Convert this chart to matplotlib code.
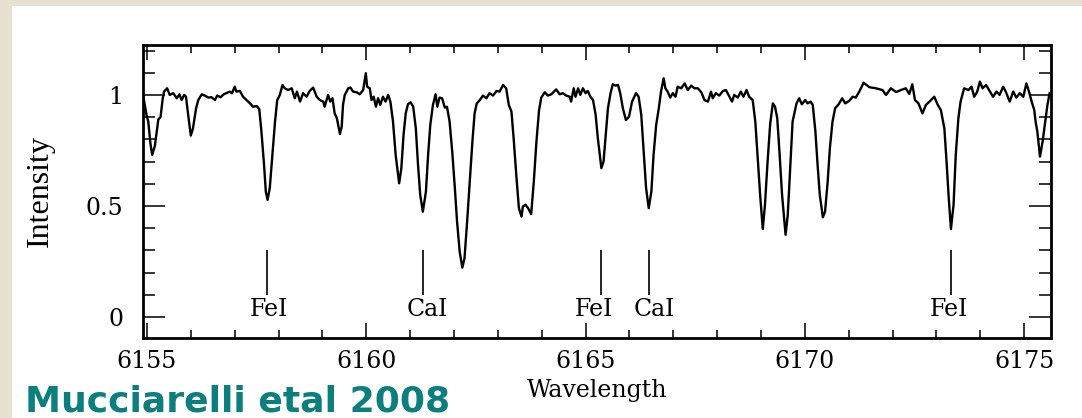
import matplotlib
matplotlib.use("Agg")
import matplotlib.pyplot as plt
from matplotlib.patches import Rectangle
from matplotlib.ticker import FixedLocator, MultipleLocator

# spectrum (wavelength in A, normalised intensity)
wl = [6154.92, 6154.99, 6155.03, 6155.08, 6155.12, 6155.18, 6155.22, 6155.26, 6155.31, 6155.36,
      6155.39, 6155.46, 6155.52, 6155.60, 6155.68, 6155.74, 6155.79, 6155.85, 6155.89, 6155.94,
      6156.00, 6156.05, 6156.12, 6156.17, 6156.25, 6156.32, 6156.40, 6156.47, 6156.55, 6156.60,
      6156.68, 6156.75, 6156.83, 6156.89, 6156.94, 6157.00, 6157.04, 6157.12, 6157.19, 6157.27,
      6157.35, 6157.42, 6157.50, 6157.56, 6157.61, 6157.67, 6157.71, 6157.75, 6157.80, 6157.86,
      6157.92, 6157.97, 6158.03, 6158.09, 6158.14, 6158.22, 6158.30, 6158.37, 6158.42, 6158.49,
      6158.56, 6158.64, 6158.71, 6158.79, 6158.87, 6158.94, 6159.02, 6159.05, 6159.13, 6159.18,
      6159.23, 6159.28, 6159.33, 6159.40, 6159.44, 6159.47, 6159.51, 6159.59, 6159.64, 6159.70,
      6159.78, 6159.85, 6159.93, 6159.99, 6160.02, 6160.08, 6160.12, 6160.17, 6160.22, 6160.27,
      6160.32, 6160.38, 6160.44, 6160.50, 6160.55, 6160.61, 6160.67, 6160.75, 6160.80, 6160.85,
      6160.90, 6160.95, 6161.01, 6161.07, 6161.13, 6161.18, 6161.23, 6161.29, 6161.36, 6161.41,
      6161.46, 6161.52, 6161.58, 6161.62, 6161.67, 6161.73, 6161.79, 6161.84, 6161.90, 6161.96,
      6162.02, 6162.07, 6162.13, 6162.19, 6162.24, 6162.30, 6162.36, 6162.42, 6162.47, 6162.52,
      6162.59, 6162.66, 6162.74, 6162.81, 6162.89, 6162.97, 6163.04, 6163.12, 6163.19, 6163.25,
      6163.31, 6163.36, 6163.42, 6163.48, 6163.54, 6163.57, 6163.63, 6163.69, 6163.76, 6163.82,
      6163.88, 6163.94, 6163.99, 6164.07, 6164.14, 6164.22, 6164.33, 6164.41, 6164.48, 6164.56,
      6164.64, 6164.67, 6164.73, 6164.77, 6164.83, 6164.88, 6164.94, 6165.00, 6165.05, 6165.11,
      6165.17, 6165.23, 6165.28, 6165.36, 6165.41, 6165.46, 6165.51, 6165.57, 6165.62, 6165.68,
      6165.74, 6165.79, 6165.85, 6165.92, 6165.99, 6166.06, 6166.15, 6166.21, 6166.27, 6166.32,
      6166.38, 6166.44, 6166.50, 6166.55, 6166.61, 6166.67, 6166.72, 6166.78, 6166.82, 6166.87,
      6166.93, 6166.99, 6167.05, 6167.10, 6167.18, 6167.26, 6167.33, 6167.41, 6167.48, 6167.56,
      6167.64, 6167.71, 6167.79, 6167.86, 6167.90, 6167.97, 6168.05, 6168.13, 6168.20, 6168.28,
      6168.34, 6168.39, 6168.47, 6168.54, 6168.60, 6168.67, 6168.73, 6168.81, 6168.87, 6168.92,
      6168.98, 6169.04, 6169.09, 6169.15, 6169.21, 6169.27, 6169.32, 6169.37, 6169.42, 6169.48,
      6169.56, 6169.61, 6169.67, 6169.72, 6169.76, 6169.81, 6169.87, 6169.93, 6170.01, 6170.06,
      6170.13, 6170.18, 6170.24, 6170.29, 6170.34, 6170.41, 6170.46, 6170.52, 6170.57, 6170.63,
      6170.69, 6170.77, 6170.85, 6170.92, 6171.01, 6171.09, 6171.16, 6171.24, 6171.34, 6171.47,
      6171.62, 6171.77, 6171.85, 6171.96, 6172.08, 6172.19, 6172.30, 6172.38, 6172.45, 6172.51,
      6172.59, 6172.68, 6172.76, 6172.84, 6172.95, 6173.03, 6173.10, 6173.18, 6173.23, 6173.28,
      6173.33, 6173.39, 6173.44, 6173.50, 6173.55, 6173.63, 6173.73, 6173.80, 6173.86, 6173.93,
      6173.99, 6174.05, 6174.13, 6174.22, 6174.29, 6174.37, 6174.44, 6174.52, 6174.58, 6174.67,
      6174.75, 6174.82, 6174.90, 6174.98, 6175.05, 6175.11, 6175.17, 6175.23, 6175.26, 6175.30,
      6175.36, 6175.42, 6175.48, 6175.53, 6175.58]

intensity = [0.990, 0.910, 0.880, 0.780, 0.730, 0.770, 0.830, 0.890, 0.900, 0.985,
             1.015, 1.030, 1.000, 1.008, 0.985, 1.003, 0.977, 1.000, 0.992, 0.910,
             0.817, 0.850, 0.940, 0.977, 1.003, 0.997, 0.988, 0.990, 0.977, 0.997,
             0.990, 1.003, 1.010, 1.015, 1.008, 1.037, 1.015, 1.018, 0.992, 0.977,
             0.962, 0.947, 0.950, 0.937, 0.835, 0.685, 0.564, 0.527, 0.580, 0.730,
             0.880, 0.977, 1.000, 1.045, 1.030, 1.022, 1.030, 0.985, 1.015, 0.970,
             1.008, 0.992, 1.018, 1.033, 0.992, 0.977, 0.970, 0.947, 1.000, 0.970,
             0.985, 0.917, 0.895, 0.824, 0.857, 0.955, 1.000, 1.030, 1.033, 1.015,
             1.012, 1.003, 1.022, 1.098, 1.037, 1.030, 0.977, 0.992, 0.947, 0.985,
             0.955, 0.992, 0.970, 1.000, 0.970, 0.880, 0.730, 0.602, 0.670, 0.820,
             0.917, 0.958, 0.967, 0.947, 0.850, 0.685, 0.550, 0.474, 0.564, 0.730,
             0.865, 0.955, 1.003, 0.947, 0.988, 0.985, 0.943, 0.947, 0.880, 0.745,
             0.580, 0.430, 0.294, 0.222, 0.264, 0.430, 0.610, 0.790, 0.917, 0.962,
             0.977, 0.997, 0.985, 1.008, 0.997, 1.018, 1.015, 1.045, 1.030, 0.955,
             0.925, 0.805, 0.640, 0.490, 0.452, 0.497, 0.505, 0.490, 0.463, 0.610,
             0.790, 0.932, 0.988, 1.012, 0.997, 1.003, 1.025, 1.003, 1.008, 0.997,
             0.992, 0.970, 1.030, 0.992, 1.030, 1.000, 1.030, 1.008, 1.018, 0.992,
             0.977, 0.910, 0.805, 0.670, 0.700, 0.820, 0.940, 1.008, 1.048, 1.042,
             1.045, 1.008, 0.940, 0.887, 0.902, 0.970, 1.008, 0.992, 0.910, 0.760,
             0.580, 0.490, 0.564, 0.730, 0.865, 0.940, 1.015, 1.075, 1.030, 1.015,
             0.988, 1.008, 0.992, 1.037, 1.030, 1.052, 1.022, 1.042, 1.030, 1.030,
             1.012, 0.977, 0.970, 1.015, 0.985, 1.008, 0.997, 1.018, 1.022, 0.992,
             0.970, 1.000, 0.988, 1.015, 0.992, 1.022, 0.992, 0.977, 0.880, 0.730,
             0.550, 0.396, 0.505, 0.700, 0.872, 0.962, 0.947, 0.895, 0.745, 0.550,
             0.370, 0.460, 0.685, 0.880, 0.917, 0.962, 0.985, 0.958, 0.977, 0.962,
             0.970, 0.955, 0.835, 0.685, 0.550, 0.449, 0.474, 0.610, 0.760, 0.880,
             0.940, 0.958, 0.985, 0.962, 0.973, 0.992, 0.988, 1.015, 1.055, 1.035,
             1.030, 1.022, 1.000, 1.030, 1.013, 1.022, 1.030, 1.004, 1.048, 0.977,
             0.962, 0.917, 0.955, 0.970, 0.992, 0.955, 0.932, 0.850, 0.700, 0.535,
             0.396, 0.505, 0.730, 0.895, 0.970, 1.030, 1.022, 1.037, 0.992, 1.015,
             1.060, 1.030, 1.045, 1.015, 0.992, 1.015, 1.000, 1.037, 1.015, 0.970,
             1.015, 0.988, 1.008, 0.992, 1.052, 1.015, 0.970, 0.932, 0.880, 0.835,
             0.722, 0.790, 0.880, 0.955, 1.008]

# identified lines
line_wl = [6157.73, 6161.29, 6165.36, 6166.44, 6173.33]
line_names = ["FeI", "CaI", "FeI", "CaI", "FeI"]
label_wl = [6157.79, 6161.40, 6165.18, 6166.57, 6173.29]

W, H = 1082, 418
fig = plt.figure(figsize=(W / 100, H / 100), dpi=100)
fig.patch.set_facecolor('#e8e0d1')
fig.add_artist(Rectangle((12 / W, 0), 1, 1 - 6 / H, transform=fig.transFigure,
                         facecolor='white', edgecolor='none', zorder=0))

ax = fig.add_axes([143 / W, 1 - 338 / H, 907.5 / W, 293 / H])
ax.set_facecolor('white')
ax.plot(wl, intensity, color='black', lw=1.7)

ax.vlines(line_wl, 0.1, 0.3, color='black', lw=1.2)
for x, name in zip(label_wl, line_names):
    ax.text(x, 0.004, name, ha='center', va='baseline', fontsize=17, family='DejaVu Serif')

ax.set_xlim(6154.91, 6175.6)
ax.set_ylim(-0.095, 1.225)

ax.xaxis.set_major_locator(MultipleLocator(5))
ax.xaxis.set_minor_locator(MultipleLocator(1))
ax.yaxis.set_major_locator(FixedLocator([0, 0.5, 1]))
ax.set_yticklabels(['0', '0.5', '1'])
ax.yaxis.set_minor_locator(MultipleLocator(0.1))

ax.tick_params(which='both', direction='in', top=True, right=True, width=1.1,
               labelsize=17, labelfontfamily='DejaVu Serif')
ax.tick_params(axis='x', which='major', length=11, pad=9)
ax.tick_params(axis='x', which='minor', length=5.5)
ax.tick_params(axis='y', which='major', length=16, pad=14)
ax.tick_params(axis='y', which='minor', length=8.5)
for sp in ax.spines.values():
    sp.set_linewidth(2)

ax.set_xlabel('Wavelength', fontsize=17, family='DejaVu Serif', va='top')
ax.xaxis.set_label_coords(0.5, -0.14)
ax.set_ylabel('Intensity', fontsize=23, family='Liberation Serif', va='center')
ax.yaxis.set_label_coords(-0.1135, 0.5)

fig.text(25 / W, 6 / H, 'Mucciarelli etal 2008', fontsize=26, fontweight='bold',
         color='#0b7e7e', family='DejaVu Sans', ha='left', va='baseline')

fig.savefig('out.png', dpi=100, facecolor=fig.get_facecolor())
